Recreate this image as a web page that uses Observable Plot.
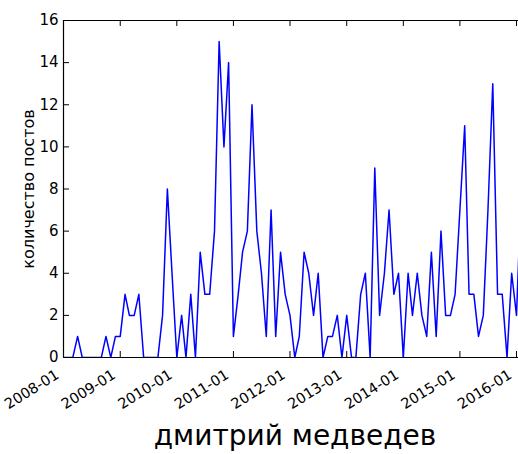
<!DOCTYPE html>
<html>
<head>
<meta charset="utf-8">
<script src="https://cdn.jsdelivr.net/npm/d3@7"></script>
<script src="https://cdn.jsdelivr.net/npm/@observablehq/plot@0.6"></script>
<style>
  html, body { margin: 0; padding: 0; background: #fff; }
  #chart { position: relative; width: 518px; height: 454px; overflow: hidden; font-family: "DejaVu Sans", sans-serif; }
  #title { position: absolute; left: 295px; top: 422px; transform: translateX(-50%); font-size: 28px; line-height: 28px; white-space: nowrap; color: #000; }
</style>
</head>
<body>
<div id="chart"></div>
<script>
// ---- data ----
const months = [
  "2008-01","2008-02","2008-03","2008-04","2008-05","2008-06","2008-07","2008-08","2008-09","2008-10","2008-11","2008-12",
  "2009-01","2009-02","2009-03","2009-04","2009-05","2009-06","2009-07","2009-08","2009-09","2009-10","2009-11","2009-12",
  "2010-01","2010-02","2010-03","2010-04","2010-05","2010-06","2010-07","2010-08","2010-09","2010-10","2010-11","2010-12",
  "2011-01","2011-02","2011-03","2011-04","2011-05","2011-06","2011-07","2011-08","2011-09","2011-10","2011-11","2011-12",
  "2012-01","2012-02","2012-03","2012-04","2012-05","2012-06","2012-07","2012-08","2012-09","2012-10","2012-11","2012-12",
  "2013-01","2013-02","2013-03","2013-04","2013-05","2013-06","2013-07","2013-08","2013-09","2013-10","2013-11","2013-12",
  "2014-01","2014-02","2014-03","2014-04","2014-05","2014-06","2014-07","2014-08","2014-09","2014-10","2014-11","2014-12",
  "2015-01","2015-02","2015-03","2015-04","2015-05","2015-06","2015-07","2015-08","2015-09","2015-10","2015-11","2015-12",
  "2016-01","2016-02"
];
const counts = [
  0, 0, 0, 1, 0, 0, 0, 0, 0, 1, 0, 1,
  1, 3, 2, 2, 3, 0, 0, 0, 0, 2, 8, 4,
  0, 2, 0, 3, 0, 5, 3, 3, 6, 15, 10, 14,
  1, 3, 5, 6, 12, 6, 4, 1, 7, 1, 5, 3,
  2, 0, 1, 5, 4, 2, 4, 0, 1, 1, 2, 0,
  2, 0, 0, 3, 4, 0, 9, 2, 4, 7, 3, 4,
  0, 4, 2, 4, 2, 1, 5, 1, 6, 2, 2, 3,
  7, 11, 3, 3, 1, 2, 7, 13, 3, 3, 0, 4,
  2, 8
];
const yTicks = [0, 2, 4, 6, 8, 10, 12, 14, 16];
const xTickLabels = ["2008-01","2009-01","2010-01","2011-01","2012-01","2013-01","2014-01","2015-01","2016-01"];
const xDomain = ["2008-01-01", "2016-01-14"];
const yLabel = "количество постов";
const titleText = "дмитрий медведев";

// ---- build ----
const parse = s => new Date(s.length === 7 ? s + "-01T00:00:00Z" : s + "T00:00:00Z");
const data = months.map((m, i) => ({date: parse(m), value: counts[i]}));
const tickDates = xTickLabels.map(parse);

const W = 518, H = 412;
const mL = 63, mR = 0, mT = 20, mB = 55;
const plotW = W - mL - mR, plotH = H - mT - mB;
const fmt = d3.utcFormat("%Y-%m");

const chart = Plot.plot({
  width: W,
  height: H,
  marginLeft: mL,
  marginRight: mR,
  marginTop: mT,
  marginBottom: mB,
  style: {fontFamily: "DejaVu Sans", fontSize: "15px", color: "#000", background: "#fff"},
  x: {type: "utc", domain: xDomain.map(parse)},
  y: {domain: [0, 16]},
  marks: [
    // inward ticks
    Plot.tickY(yTicks, {y: d => d, stroke: "#000", strokeWidth: 1, insetRight: plotW - 6}),
    Plot.tickX(tickDates, {x: d => d, stroke: "#000", strokeWidth: 1, insetBottom: plotH - 6}),
    Plot.tickX(tickDates, {x: d => d, stroke: "#000", strokeWidth: 1, insetTop: plotH - 6}),
    // spines
    Plot.ruleY([0], {stroke: "#000", strokeWidth: 1.2}),
    Plot.ruleY([16], {stroke: "#000", strokeWidth: 1.2}),
    Plot.ruleX([parse(xDomain[0])], {stroke: "#000", strokeWidth: 1.2}),
    // axes labels
    Plot.axisY(yTicks, {tickSize: 0, tickPadding: 5, fontSize: 15, label: null}),
    Plot.axisX(tickDates, {tickSize: 0, tickPadding: 16, tickRotate: -32, dx: -6, fontSize: 14.5, label: null, tickFormat: d => fmt(d)}),
    Plot.text([yLabel], {frameAnchor: "left", rotate: -90, dx: -35, fontSize: 16, textAnchor: "middle", text: d => d}),
    // series
    Plot.line(data, {x: "date", y: "value", stroke: "#0000ff", strokeWidth: 1.5, clip: true})
  ]
});

const root = document.getElementById("chart");
root.appendChild(chart);
const t = document.createElement("div");
t.id = "title";
t.textContent = titleText;
root.appendChild(t);
</script>
</body>
</html>
